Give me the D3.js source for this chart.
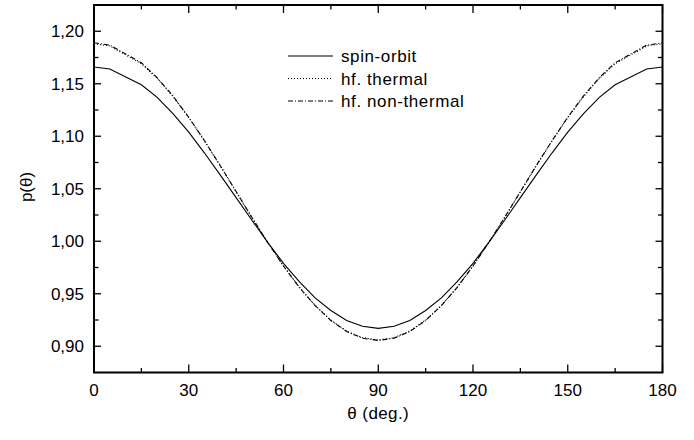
<!DOCTYPE html>
<html><head><meta charset="utf-8">
<script src="https://cdn.jsdelivr.net/npm/d3@7"></script>
<style>body{margin:0;background:#fff}svg{display:block}text{font-family:"Liberation Sans",Arial,sans-serif;fill:#000}</style>
</head><body><svg id="c" width="694" height="440"></svg>
<script>
const theta = [0,5,15,20,25,30,35,40,45,50,55,60,65,70,75,80,85,90,95,100,105,110,115,120,125,130,135,140,145,150,155,160,165,175,180];
const spinOrbit = [1.166,1.164,1.149,1.137,1.1215,1.104,1.084,1.063,1.0415,1.020,0.999,0.979,0.9615,0.946,0.934,0.9245,0.919,0.917,0.919,0.9245,0.934,0.946,0.9615,0.979,0.999,1.020,1.0415,1.063,1.084,1.104,1.1215,1.137,1.149,1.164,1.166];
const hfThermal = [1.188,1.186,1.169,1.155,1.1378,1.1177,1.0953,1.0716,1.047,1.0225,0.9988,0.9765,0.9563,0.939,0.925,0.9145,0.9082,0.906,0.9082,0.9145,0.925,0.939,0.9563,0.9765,0.9988,1.0225,1.047,1.0716,1.0953,1.1177,1.1378,1.155,1.169,1.186,1.188];
const hfNonThermal = [1.189,1.1868,1.170,1.1558,1.1384,1.1181,1.0957,1.0719,1.0473,1.0226,0.9988,0.9764,0.9561,0.9387,0.9245,0.914,0.9077,0.9055,0.9077,0.914,0.9245,0.9387,0.9561,0.9764,0.9988,1.0226,1.0473,1.0719,1.0957,1.1181,1.1384,1.1558,1.170,1.1868,1.189];
const xTicks = [0,30,60,90,120,150,180];
const xMinor = [15,45,75,105,135,165];
const yTicks = [0.90,0.95,1.00,1.05,1.10,1.15,1.20];
const yMinor = [0.875,0.925,0.975,1.025,1.075,1.125,1.175,1.225];
const seriesNames = ["spin-orbit","hf. thermal","hf. non-thermal"];

const svg = d3.select("#c");
const L=94,R=662.5,T=5,B=372.5;
const x = d3.scaleLinear().domain([0,180]).range([L,R]);
const y = d3.scaleLinear().domain([0.875,1.225]).range([B,T]);
const fmtY = v => d3.format(".2f")(v).replace(".",",");
const fs = "17px";

const tk = svg.append("g").attr("stroke","#000").attr("stroke-width",1.3);
xTicks.forEach(v=>{
  tk.append("line").attr("x1",x(v)).attr("x2",x(v)).attr("y1",B).attr("y2",B-8);
  tk.append("line").attr("x1",x(v)).attr("x2",x(v)).attr("y1",T).attr("y2",T+8);
});
xMinor.forEach(v=>{
  tk.append("line").attr("x1",x(v)).attr("x2",x(v)).attr("y1",B).attr("y2",B-4.5);
  tk.append("line").attr("x1",x(v)).attr("x2",x(v)).attr("y1",T).attr("y2",T+4.5);
});
yTicks.forEach(v=>{
  tk.append("line").attr("y1",y(v)).attr("y2",y(v)).attr("x1",L).attr("x2",L+7);
  tk.append("line").attr("y1",y(v)).attr("y2",y(v)).attr("x1",R).attr("x2",R-7);
});
yMinor.forEach(v=>{
  if (y(v) < T+1 || y(v) > B-1) return;
  tk.append("line").attr("y1",y(v)).attr("y2",y(v)).attr("x1",L).attr("x2",L+4.5);
  tk.append("line").attr("y1",y(v)).attr("y2",y(v)).attr("x1",R).attr("x2",R-4.5);
});
svg.append("rect").attr("x",L).attr("y",T).attr("width",R-L).attr("height",B-T)
  .attr("fill","none").attr("stroke","#000").attr("stroke-width",2);

xTicks.forEach(v=>{
  svg.append("text").attr("x",x(v)).attr("y",396).attr("text-anchor","middle").style("font-size",fs).text(v);
});
yTicks.forEach(v=>{
  svg.append("text").attr("x",84).attr("y",y(v)+6).attr("text-anchor","end").style("font-size",fs).text(fmtY(v));
});
svg.append("text").attr("x",(L+R)/2).attr("y",419).attr("text-anchor","middle").style("font-size",fs).style("letter-spacing","0.4px").text("θ (deg.)");
svg.append("text").attr("transform","translate(32,187) rotate(-90)").attr("text-anchor","middle").style("font-size",fs).text("p(θ)");

const styles = [
  {data:spinOrbit, dash:null},
  {data:hfThermal, dash:"1,2"},
  {data:hfNonThermal, dash:"5,2,1,2"}
];
const line = d3.line().x((d,i)=>x(theta[i])).y(d=>y(d));
styles.forEach(s=>{
  const p = svg.append("path").datum(s.data).attr("d",line).attr("fill","none").attr("stroke","#000").attr("stroke-width",1.1);
  if (s.dash) p.attr("stroke-dasharray",s.dash);
});

const ly=[56,78.5,101];
styles.forEach((s,i)=>{
  const l = svg.append("line").attr("x1",288).attr("x2",333).attr("y1",ly[i]).attr("y2",ly[i]).attr("stroke","#000").attr("stroke-width",1.1);
  if (s.dash) l.attr("stroke-dasharray",s.dash);
  svg.append("text").attr("x",341).attr("y",ly[i]+6).style("font-size",fs).style("letter-spacing","0.6px").text(seriesNames[i]);
});
</script></body></html>
